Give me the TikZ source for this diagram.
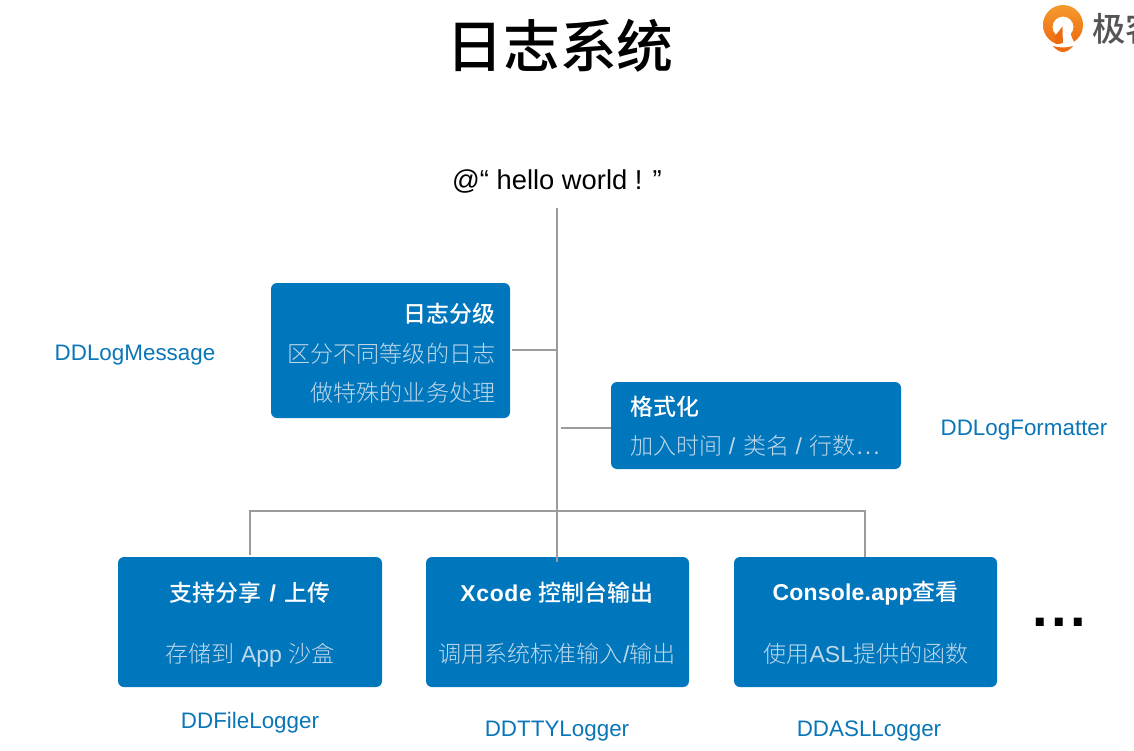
\documentclass[tikz,border=0pt]{standalone}
\usepackage{fontspec}
\setmainfont{Liberation Sans}
\newfontfamily\cjk{Noto Sans CJK SC Light}
\newfontfamily\cjkm{Noto Sans CJK SC Medium}
\definecolor{boxblue}{HTML}{0076BC}
\definecolor{subtxt}{HTML}{BFD8EA}
\definecolor{linegray}{HTML}{9B9B9B}
\definecolor{labelblue}{HTML}{0A76B8}
\definecolor{logogray}{HTML}{555555}
\definecolor{logotop}{HTML}{F59A2E}
\definecolor{logobot}{HTML}{EE6A10}
\newcommand{\lat}[1]{{\rmfamily #1}}
\newcommand{\latb}[1]{{\rmfamily\bfseries #1}}
\tikzset{
  card/.style={fill=boxblue,rounded corners=4.5pt,inner sep=0pt,anchor=north west},
  head/.style={text=white,font=\fontsize{17.2}{20}\selectfont\cjkm,inner sep=0pt},
  sub/.style={text=subtxt,font=\fontsize{17.3}{20}\selectfont\cjk,inner sep=0pt},
  lab/.style={text=labelblue,font=\fontsize{16.8}{20}\selectfont,inner sep=0pt},
  wire/.style={draw=linegray,line width=0.8pt},
}
\begin{document}
\begin{tikzpicture}[x=0.75pt,y=-0.75pt]
\useasboundingbox[clip] (0,0) rectangle (1134,750);
\fill[white] (0,0) rectangle (1134,750);
% title
\node[inner sep=0pt,font=\fontsize{42.6}{50}\selectfont\cjkm] (title) at (560,46) {日志系统};
% logo
\shade[top color=logotop,bottom color=logobot,even odd rule]
  (1063,25) circle[radius=20] (1063,27) circle[radius=10.5];
\fill[white] (1063,27) -- (1069,29) -- (1072,38) -- (1076,46) -- (1050,46) -- (1063,43) -- cycle;
\fill[logobot] (1055,36) -- (1062.5,26.5) -- (1062.5,43) -- (1056,44) -- cycle;
\fill[logobot] (1053,46) .. controls (1060,48) and (1067,48) .. (1073,46) .. controls (1070,50) and (1066,52) .. (1063,52) .. controls (1060,52) and (1056,50) .. (1053,46) -- cycle;
\node[inner sep=0pt,anchor=west,text=logogray,font=\fontsize{25}{30}\selectfont\cjkm] (brand) at (1092,29) {极客};
% source text
\node[inner sep=0pt,font=\fontsize{20.5}{24}\selectfont] (hello) at (557,181) {@“ hello world ! ”};
% cards
\path[card] (271,283) rectangle (510,418);
\coordinate (levelE) at (512,350);
\coordinate (levelJ) at (556,350);
\node[head,anchor=east] (h1) at (495.5,314) {日志分级};
\node[sub,anchor=east] (s1a) at (495.5,353.5) {区分不同等级的日志};
\node[sub,anchor=east] (s1b) at (495.5,393) {做特殊的业务处理};
\path[card] (611,382) rectangle (901,469);
\node[head,anchor=west] (h2) at (630,407) {格式化};
\node[sub,anchor=west] (s2) at (630,446) {加入时间\lat{ / \kern1pt{}}类名\lat{ / \kern1pt{}}行数\lat{\kern0.5pt{}.\kern1.5pt.\kern1.5pt.}};
\path[card] (118,557) rectangle (382,687);
\node[head] (h3) at (250,593) {支持分享\latb{\kern1.5pt{} / \kern1.5pt{}}上传};
\node[sub] (s3) at (250,655) {存储到\lat{ App }沙盒};
\path[card] (426,557) rectangle (689,687);
\node[head] (h4) at (557,593) {\latb{\addfontfeature{LetterSpace=3}Xcode }控制台输出};
\node[sub] (s4) at (557,654) {调用系统标准输入\lat{/}输出};
\path[card] (734,557) rectangle (997,687);
\node[head] (h5) at (865.5,593) {\latb{\addfontfeature{LetterSpace=1}Console.app}查看};
\node[sub] (s5) at (866,654) {使用\lat{ASL}提供的函数};
% labels
\node[lab] (l1) at (135,355) {DDLogMessage};
\node[lab] (l2) at (1024,430) {DDLogFormatter};
\node[lab] (l3) at (250,723) {DDFileLogger};
\node[lab] (l4) at (557,731) {DDTTYLogger};
\node[lab] (l5) at (869,731) {DDASLLogger};
\node[inner sep=0pt,font=\fontsize{42}{50}\selectfont\bfseries] (dots) at (1059,622) {.\kern2.5pt.\kern2.5pt.};
% connectors
\coordinate (trunkTop) at (557,208);
\coordinate (trunkEnd) at (557,562);
\coordinate (fmtL) at (561,428);
\coordinate (fmtR) at (611,428);
\coordinate (busL) at (250,511);
\coordinate (busR) at (865,511);
\coordinate (dropL) at (250,555);
\coordinate (dropR) at (865,557);
\draw[wire] (trunkTop) -- (trunkEnd);
\draw[wire] (levelE) -- (levelJ);
\draw[wire] (fmtL) -- (fmtR);
\draw[wire] (dropL) -- (busL) -- (busR) -- (dropR);
\end{tikzpicture}
\end{document}
